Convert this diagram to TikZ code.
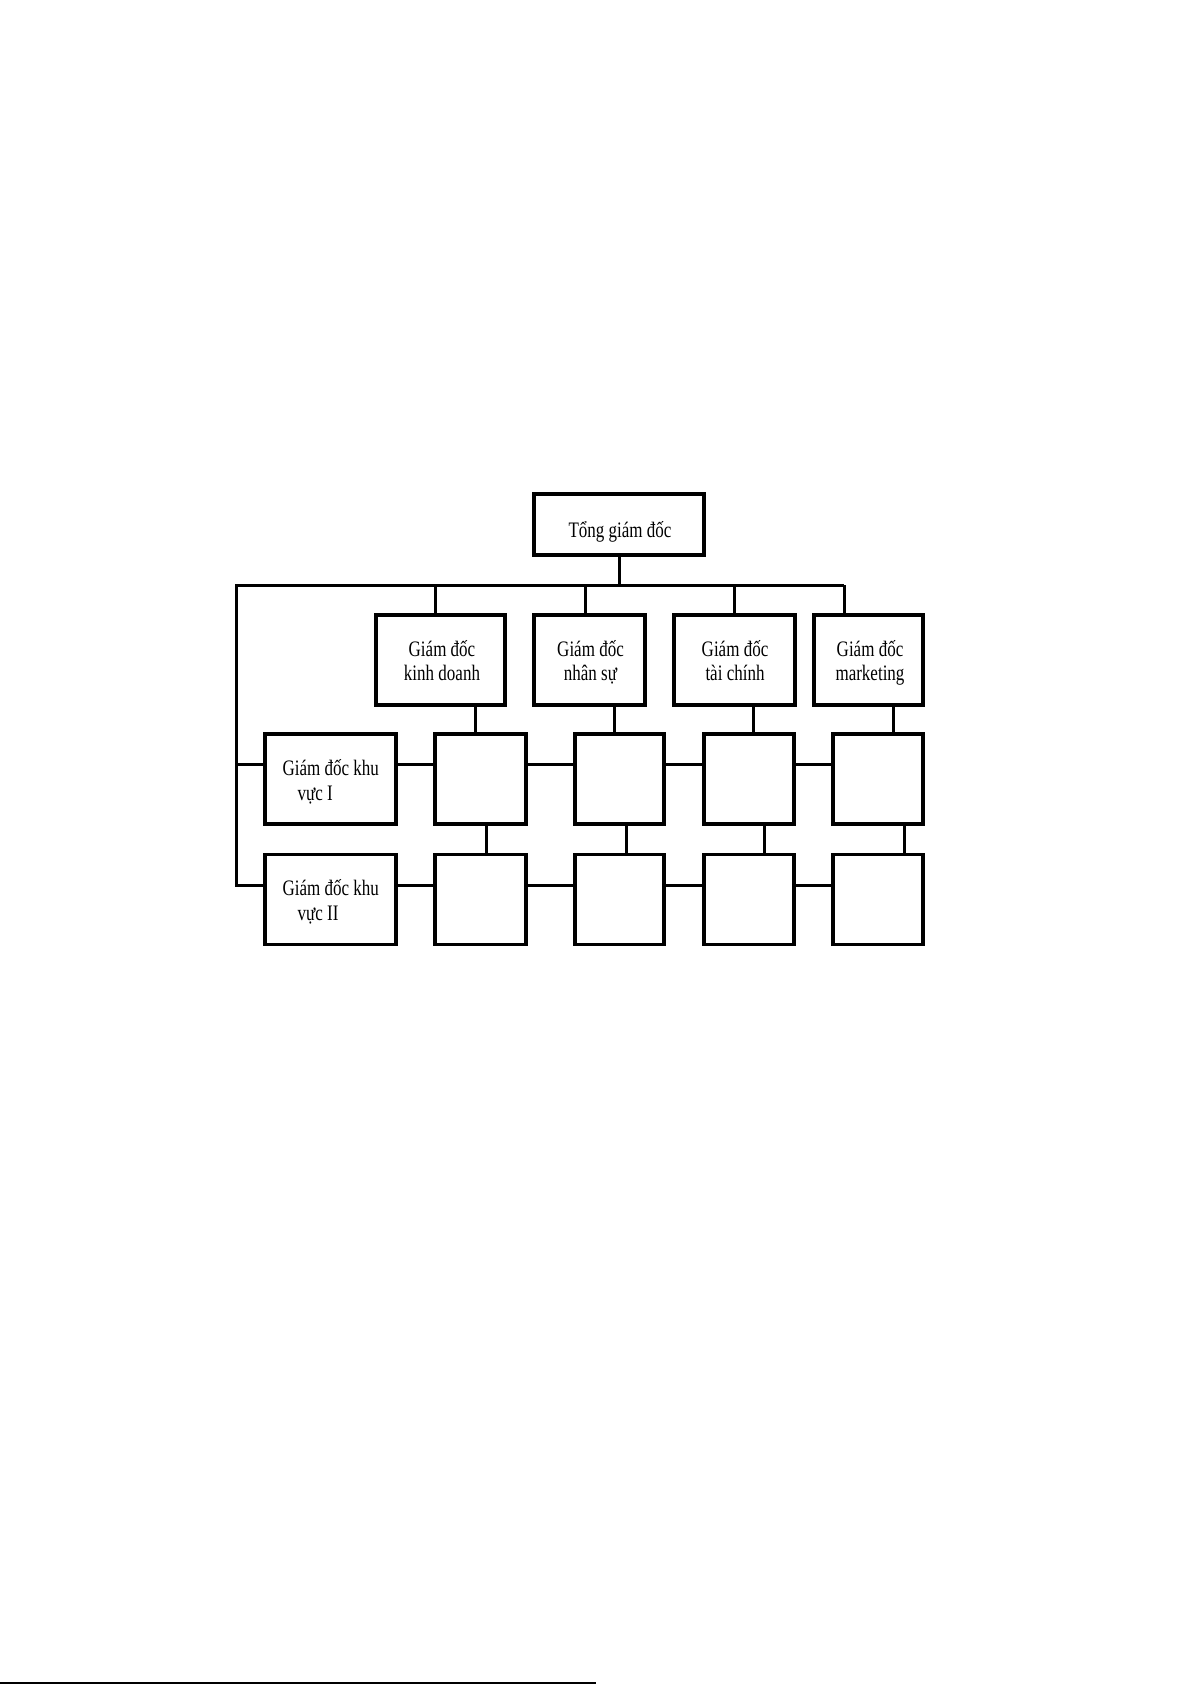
\documentclass[tikz,border=0pt]{standalone}
\usepackage{fontspec}
\setmainfont{Liberation Serif}
\newcommand{\tallt}[1]{\scalebox{1}[1.3]{#1}}
\begin{document}
\begin{tikzpicture}[x=1pt,y=-1pt,
  box/.style={draw,line width=3.1pt,inner sep=0pt,minimum height=90pt},
  lbl/.style={inner sep=0pt,anchor=base,font=\fontsize{17}{24}\selectfont},
  lbll/.style={lbl,anchor=base west},
  conn/.style={line width=3pt},
  rule/.style={line width=1.5pt}]
\fill[white] (0,0) rectangle (1191,1685);
\useasboundingbox (0,0) rectangle (1191,1685);

% top
\node[box,minimum width=170pt,minimum height=61pt] (top) at (619,524.5) {};
\node[lbl] (topT) at ([yshift=-12.5pt,xshift=1pt]top.center) {\tallt{Tổng giám đốc}};

% row 2
\node[box,minimum width=129pt] (K) at (440.5,660) {};
\node[box,minimum width=111pt] (N) at (589.5,660) {};
\node[box,minimum width=121pt] (T) at (734.5,660) {};
\node[box,minimum width=109pt] (M) at (868.5,660) {};
\node[lbl] (Ka) at ([yshift=3.5pt,xshift=1.5pt]K.center) {\tallt{Giám đốc}};
\node[lbl] (Kb) at ([yshift=-20.5pt,xshift=1.5pt]K.center) {\tallt{kinh doanh}};
\node[lbl] (Na) at ([yshift=3.5pt,xshift=1pt]N.center) {\tallt{Giám đốc}};
\node[lbl] (Nb) at ([yshift=-20.5pt,xshift=1pt]N.center) {\tallt{nhân sự}};
\node[lbl] (Ta) at ([yshift=3.5pt,xshift=0.5pt]T.center) {\tallt{Giám đốc}};
\node[lbl] (Tb) at ([yshift=-20.5pt,xshift=0.5pt]T.center) {\tallt{tài chính}};
\node[lbl] (Ma) at ([yshift=3.5pt,xshift=1.5pt]M.center) {\tallt{Giám đốc}};
\node[lbl] (Mb) at ([yshift=-20.5pt,xshift=1.5pt]M.center) {\tallt{marketing}};

% row 3
\node[box,minimum width=131pt] (L1) at (330.5,779) {};
\node[box,minimum width=91pt] (A1) at (480.5,779) {};
\node[box,minimum width=89pt] (B1) at (619.5,779) {};
\node[box,minimum width=90pt] (C1) at (749,779) {};
\node[box,minimum width=90pt] (D1) at (878,779) {};
\node[lbll] (L1a) at ([yshift=4pt,xshift=19pt]L1.west) {\tallt{Giám đốc khu}};
\node[lbll] (L1b) at ([yshift=-21pt,xshift=34pt]L1.west) {\tallt{vực I}};

% row 4
\node[box,minimum width=131pt] (L2) at (330.5,899.5) {};
\node[box,minimum width=91pt] (A2) at (480.5,899.5) {};
\node[box,minimum width=89pt] (B2) at (619.5,899.5) {};
\node[box,minimum width=90pt] (C2) at (749,899.5) {};
\node[box,minimum width=90pt] (D2) at (878,899.5) {};
\node[lbll] (L2a) at ([yshift=4pt,xshift=19pt]L2.west) {\tallt{Giám đốc khu}};
\node[lbll] (L2b) at ([yshift=-21pt,xshift=34pt]L2.west) {\tallt{vực II}};

% bus
\coordinate (busL) at (236.5,585);
\coordinate (busR) at (844,585);
\coordinate (r3) at (0,764);
\coordinate (r4) at (0,885);

\draw[conn] (top.south) -- (top.south |- busL);
\draw[conn] (busR) -- (busL) -- (busL |- r4) -- (L2.west |- r4);
\draw[conn] (busL |- r3) -- (L1.west |- r3);

% drops to row 2
\coordinate (dK) at ([xshift=-5.5pt]K.north);
\coordinate (dN) at ([xshift=-4.5pt]N.north);
\coordinate (dT) at ([xshift=-0.5pt]T.north);
\coordinate (dM) at ([xshift=-24.5pt]M.north);
\draw[conn] (dK) -- (dK |- busL);
\draw[conn] (dN) -- (dN |- busL);
\draw[conn] (dT) -- (dT |- busL);
\draw[conn] (dM) -- (dM |- busL);

% row 2 to row 3
\coordinate (eK) at ([xshift=34.5pt]K.south);
\coordinate (eN) at ([xshift=24.5pt]N.south);
\coordinate (eT) at ([xshift=19pt]T.south);
\coordinate (eM) at ([xshift=24.5pt]M.south);
\draw[conn] (eK) -- (eK |- A1.north);
\draw[conn] (eN) -- (eN |- B1.north);
\draw[conn] (eT) -- (eT |- C1.north);
\draw[conn] (eM) -- (eM |- D1.north);

% row 3 to row 4
\coordinate (fA) at ([xshift=5.5pt]A1.south);
\coordinate (fB) at ([xshift=6.5pt]B1.south);
\coordinate (fC) at ([xshift=15pt]C1.south);
\coordinate (fD) at ([xshift=26pt]D1.south);
\draw[conn] (fA) -- (fA |- A2.north);
\draw[conn] (fB) -- (fB |- B2.north);
\draw[conn] (fC) -- (fC |- C2.north);
\draw[conn] (fD) -- (fD |- D2.north);

% horizontal links row 3
\draw[conn] (L1.east |- r3) -- (A1.west |- r3);
\draw[conn] (A1.east |- r3) -- (B1.west |- r3);
\draw[conn] (B1.east |- r3) -- (C1.west |- r3);
\draw[conn] (C1.east |- r3) -- (D1.west |- r3);

% horizontal links row 4
\draw[conn] (L2.east |- r4) -- (A2.west |- r4);
\draw[conn] (A2.east |- r4) -- (B2.west |- r4);
\draw[conn] (B2.east |- r4) -- (C2.west |- r4);
\draw[conn] (C2.east |- r4) -- (D2.west |- r4);

% footnote rule
\coordinate (ruleL) at (0,1683);
\coordinate (ruleR) at (596,1683);
\draw[rule] (ruleL) -- (ruleR);
\end{tikzpicture}
\end{document}
